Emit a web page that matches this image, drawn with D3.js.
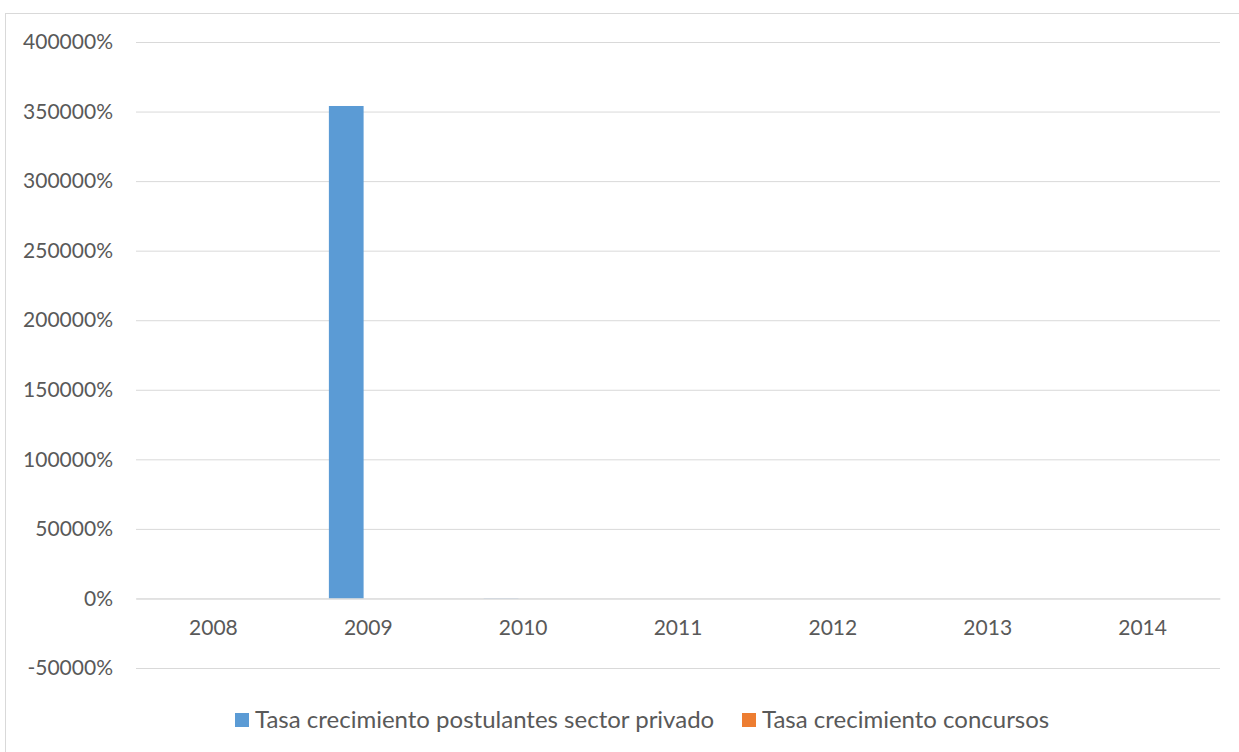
<!DOCTYPE html>
<html>
<head>
<meta charset="utf-8">
<script src="https://cdn.jsdelivr.net/npm/d3@7"></script>
<style>
  html, body { margin: 0; padding: 0; background: #fff; }
  svg { display: block; }
</style>
</head>
<body>
<svg id="chart" width="1239" height="752"></svg>
<script>
// Years on the category axis
const years = ["2008", "2009", "2010", "2011", "2012", "2013", "2014"];
// Growth rates in percent
const privateApplicants = [0, 354000, 150, 0, 0, 0, 0];
const contests = [0, 0, 0, 0, 0, 0, 0];
const seriesNames = ["Tasa crecimiento postulantes sector privado", "Tasa crecimiento concursos"];
const seriesColors = ["#5b9bd5", "#ed7d31"];
const yTicks = [-50000, 0, 50000, 100000, 150000, 200000, 250000, 300000, 350000, 400000];

const FONT = "Lato, 'Open Sans', sans-serif";
const svg = d3.select("#chart");
const W = 1239, H = 752;

// chart area frame
svg.append("rect")
  .attr("x", 5.5).attr("y", 13.5)
  .attr("width", W + 10).attr("height", H + 10)
  .attr("fill", "#fff").attr("stroke", "#d9d9d9").attr("stroke-width", 1);

const plot = { left: 136, right: 1220, top: 42, bottom: 668 };

const y = d3.scaleLinear()
  .domain([-50000, 400000])
  .range([plot.bottom, plot.top]);

const x = d3.scaleBand()
  .domain(years)
  .range([plot.left, plot.right])
  .paddingInner(0).paddingOuter(0);

// Two bars per category with a gap of 219% and overlap of -27%
const bw = x.bandwidth() / (2 + 2.19 + 0.27);
const groupW = 2 * bw + 0.27 * bw;

// Gridlines and value labels
const yAxis = d3.axisLeft(y)
  .tickValues(yTicks)
  .tickSize(-(plot.right - plot.left))
  .tickFormat(d => d + "%")
  .tickPadding(23);

const gy = svg.append("g")
  .attr("transform", `translate(${plot.left},0)`)
  .call(yAxis)
  .attr("font-family", FONT)
  .attr("font-size", 21);
gy.select(".domain").remove();
gy.selectAll(".tick line").attr("stroke", "#d9d9d9").attr("stroke-width", 1);
gy.selectAll(".tick text").attr("fill", "#595959");

// Bars
const series = [privateApplicants, contests];
series.forEach((vals, si) => {
  svg.append("g").selectAll("rect")
    .data(years.map((yr, i) => ({ yr, v: vals[i] })))
    .join("rect")
    .attr("x", d => x(d.yr) + x.bandwidth() / 2 - groupW / 2 + si * (bw + 0.27 * bw))
    .attr("width", bw)
    .attr("y", d => Math.min(y(d.v), y(0)))
    .attr("height", d => Math.abs(y(d.v) - y(0)))
    .attr("fill", seriesColors[si]);
});

// Category labels just under the zero line
const xAxis = d3.axisBottom(x).tickSize(0).tickPadding(22);
const gx = svg.append("g")
  .attr("transform", `translate(0,${y(0)})`)
  .call(xAxis)
  .attr("font-family", FONT)
  .attr("font-size", 21);
gx.select(".domain").attr("stroke", "#d9d9d9").attr("stroke-width", 1);
gx.selectAll(".tick text").attr("fill", "#595959");

// Legend
const legend = svg.append("g").attr("font-family", FONT).attr("font-size", 24);
const legendX = [235, 742];
seriesNames.forEach((name, i) => {
  const g = legend.append("g").attr("transform", `translate(${legendX[i]},713)`);
  g.append("rect").attr("width", 14).attr("height", 14).attr("fill", seriesColors[i]);
  g.append("text")
    .attr("x", 20).attr("y", 7).attr("dy", "0.35em")
    .attr("fill", "#595959")
    .text(name);
});
</script>
</body>
</html>
